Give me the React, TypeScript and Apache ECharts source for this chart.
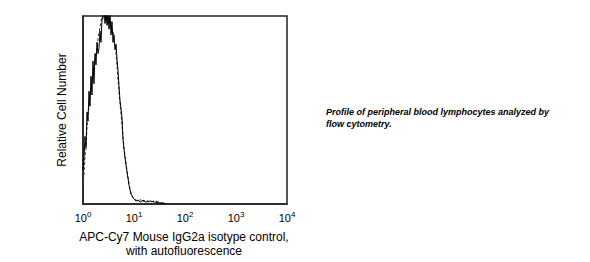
import React, { useEffect, useRef } from "react";
import * as echarts from "echarts";

const xValues = [
  1.0, 1.046, 1.094, 1.145, 1.198, 1.253, 1.311, 1.372, 1.435, 1.501, 1.571, 1.643, 1.719, 1.798,
  1.882, 1.969, 2.06, 2.154, 2.254, 2.358, 2.467, 2.581, 2.7, 2.825, 2.955, 3.092, 3.235, 3.384,
  3.541, 3.704, 3.875, 4.054, 4.242, 4.438, 4.642, 4.857, 5.081, 5.316, 5.562, 5.818, 6.087, 6.368,
  6.663, 6.97, 7.292, 7.629, 7.981, 8.35, 8.736, 9.139, 9.559, 10.0, 10.94, 11.97, 13.12, 15.0,
  17.18, 20.6, 25.8, 32.4, 40.5,
];

const solidCounts = [
  18, 24, 36, 30, 49, 44, 60, 52, 68, 58, 76, 64, 80, 74, 86, 80, 83, 92, 86, 98, 100,
  104, 96, 103, 95, 101, 93, 102, 90, 97, 86, 90, 82, 85, 77, 71, 63, 55, 51, 46, 34, 29,
  24.5, 20.7, 17, 13.8, 10, 7.4, 5.3, 4.3, 3.2, 2.7, 1.6, 2.1, 1, 2, 1, 1.6, 1, 0.5, 0.3,
];

const dashedCounts = [
  10, 16, 25, 30, 40, 47, 52, 58, 62, 66, 70, 74, 76, 80, 83, 88, 91, 94, 97, 101, 98, 104, 100, 97,
  103, 96, 100, 94, 97, 90, 92, 86, 85, 80, 74, 66, 60, 53, 48, 42, 36, 30, 26, 22, 18, 14, 11, 8,
  6, 4.5, 3.5, 2.5, 2.2, 1.2, 2.4, 1.3, 2.2, 0.9, 1.8, 0.8, 0.4,
];

const tickExponents = ["0", "1", "2", "3", "4"];

const xTitleLines = ["APC-Cy7 Mouse IgG2a isotype control,", "with autofluorescence"];
const yTitle = "Relative Cell Number";
const noteLines = ["Profile of peripheral blood lymphocytes analyzed by", "flow cytometry."];

export default function App() {
  const ref = useRef<HTMLDivElement>(null);
  useEffect(() => {
    document.body.style.margin = "0";
    if (!ref.current) return;
    const chart = echarts.init(ref.current, null, { renderer: "svg" });
    const font = "Liberation Sans, Arial, sans-serif";
    chart.setOption({
      animation: false,
      backgroundColor: "#fff",
      grid: {
        left: 83,
        top: 16,
        width: 204,
        height: 188,
        show: true,
        borderColor: "#222",
        borderWidth: 1.5,
        backgroundColor: "transparent",
      },
      xAxis: {
        type: "log",
        logBase: 10,
        min: 1,
        max: 10000,
        axisLine: { show: true, lineStyle: { color: "#222", width: 1.5 } },
        axisTick: { show: false },
        splitLine: { show: false },
        axisLabel: {
          margin: 6,
          color: "#000",
          fontFamily: font,
          formatter: (v: number) => {
            const e = Math.round(Math.log10(v));
            return `{b|10}{s|${tickExponents[e]}}`;
          },
          rich: {
            b: { fontSize: 11, fontFamily: font, color: "#000" },
            s: { fontSize: 8, fontFamily: font, color: "#000", verticalAlign: "top", padding: [0, 0, 7, 0] },
          },
        },
      },
      yAxis: {
        type: "value",
        min: 0,
        max: 100,
        axisLine: { show: true, lineStyle: { color: "#222", width: 1.5 } },
        axisTick: { show: false },
        axisLabel: { show: false },
        splitLine: { show: false },
      },
      series: [
        {
          type: "line",
          data: xValues.map((x, i) => [x, dashedCounts[i]]),
          showSymbol: false,
          clip: true,
          lineStyle: { color: "#333", width: 1, type: [3, 2] },
        },
        {
          type: "line",
          data: xValues.map((x, i) => [x, solidCounts[i]]),
          showSymbol: false,
          clip: true,
          lineStyle: { color: "#000", width: 1 },
        },
      ],
      graphic: [
        {
          type: "text",
          x: 62,
          y: 110,
          rotation: Math.PI / 2,
          style: {
            text: yTitle,
            fontSize: 12,
            fontFamily: font,
            fill: "#000",
            align: "center",
            verticalAlign: "middle",
          },
        },
        ...xTitleLines.map((t, i) => ({
          type: "text",
          x: 184,
          y: 237 + i * 14,
          style: {
            text: t,
            fontSize: 12,
            fontFamily: font,
            fill: "#000",
            align: "center",
            verticalAlign: "middle",
          },
        })),
        ...noteLines.map((t, i) => ({
          type: "text",
          x: 326,
          y: 112 + i * 12,
          style: {
            text: t,
            fontSize: 9,
            fontWeight: "bold",
            fontStyle: "italic",
            fontFamily: font,
            fill: "#000",
            align: "left",
            verticalAlign: "middle",
          },
        })),
      ],
    });
    return () => chart.dispose();
  }, []);
  return <div ref={ref} style={{ width: 590, height: 262 }} />;
}
